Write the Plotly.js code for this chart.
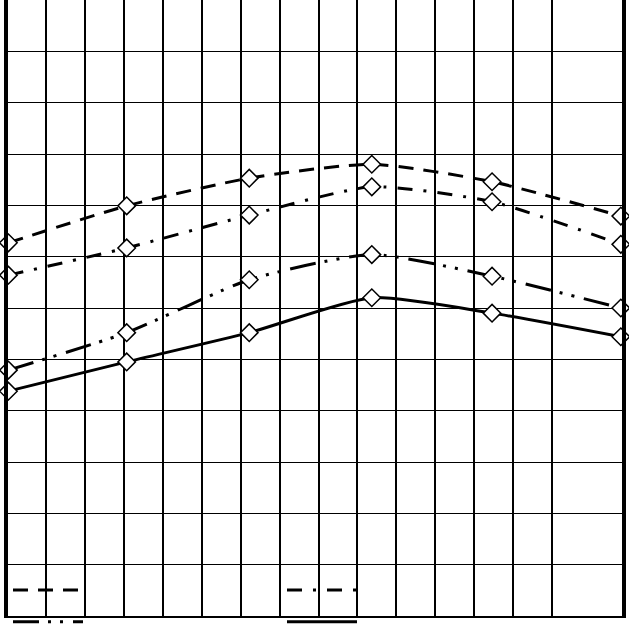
<!DOCTYPE html>
<html>
<head>
<meta charset="utf-8">
<script src="https://cdn.plot.ly/plotly-3.0.1.min.js"></script>
<style>html,body{margin:0;padding:0;background:#fff;}#chart{width:629px;height:624px;}</style>
</head>
<body>
<div id="chart"></div>
<script>
// data (x in grid-column units)
var xValues = [0.03, 3.07, 6.22, 9.37, 12.46, 15.77];
var seriesDashed = [7.27, 7.99, 8.53, 8.80, 8.46, 7.79];
var seriesDashDot = [6.64, 7.17, 7.81, 8.36, 8.07, 7.24];
var seriesDashDotDot = [4.79, 5.52, 6.55, 7.04, 6.62, 6.00];
var seriesSolid = [4.38, 4.95, 5.52, 6.20, 5.90, 5.44];
var seriesNames = ["", "", "", ""];
var xGridVals = [1, 2, 3, 4, 5, 6, 7, 8, 9, 10, 11, 12, 13, 14];
var yGridVals = [0, 1, 2, 3, 4, 5, 6, 7, 8, 9, 10, 11];

var dashes = ["15px,10px", "15px,11px,3px,11px", "26px,9px,3px,9px,3px,10px", "solid"];
var allSeries = [seriesDashed, seriesDashDot, seriesDashDotDot, seriesSolid];

var lineTraces = allSeries.map(function (ys, i) {
  return {
    type: "scatter",
    mode: "lines",
    x: xValues,
    y: ys,
    name: seriesNames[i],
    showlegend: true,
    cliponaxis: false,
    line: { color: "#000", width: 3, dash: dashes[i], shape: "spline", smoothing: 0.6 }
  };
});
var markerTraces = allSeries.map(function (ys, i) {
  return {
    type: "scatter",
    mode: "markers",
    x: xValues,
    y: ys,
    name: seriesNames[i],
    showlegend: false,
    cliponaxis: false,
    marker: { symbol: "diamond", size: 13.5, color: "#fff", line: { color: "#000", width: 1.5 } }
  };
});

var layout = {
  width: 629,
  height: 624,
  margin: { l: 8, r: 7, t: 0, b: 8, pad: 0, autoexpand: false },
  paper_bgcolor: "#fff",
  plot_bgcolor: "#fff",
  showlegend: true,
  legend: {
    orientation: "h",
    x: 0, xanchor: "left",
    y: 0.0758, yanchor: "top",
    bgcolor: "rgba(0,0,0,0)",
    borderwidth: 0,
    entrywidth: 189, entrywidthmode: "pixels",
    itemwidth: 70,
    font: { size: 22, color: "#000" },
    itemclick: false, itemdoubleclick: false
  },
  xaxis: {
    range: [0.02, 15.80],
    tickmode: "array",
    tickvals: xGridVals,
    showticklabels: false,
    ticks: "",
    showgrid: true, gridcolor: "#000", gridwidth: 2,
    zeroline: false,
    showline: true, linecolor: "#000", linewidth: 1.5, mirror: false
  },
  yaxis: {
    range: [0, 12],
    tickmode: "array",
    tickvals: yGridVals,
    showticklabels: false,
    ticks: "",
    showgrid: true, gridcolor: "#000", gridwidth: 1,
    zeroline: false,
    showline: true, linecolor: "#000", linewidth: 4, mirror: true
  }
};

Plotly.newPlot("chart", lineTraces.concat(markerTraces), layout, { staticPlot: true, displayModeBar: false });
</script>
</body>
</html>
